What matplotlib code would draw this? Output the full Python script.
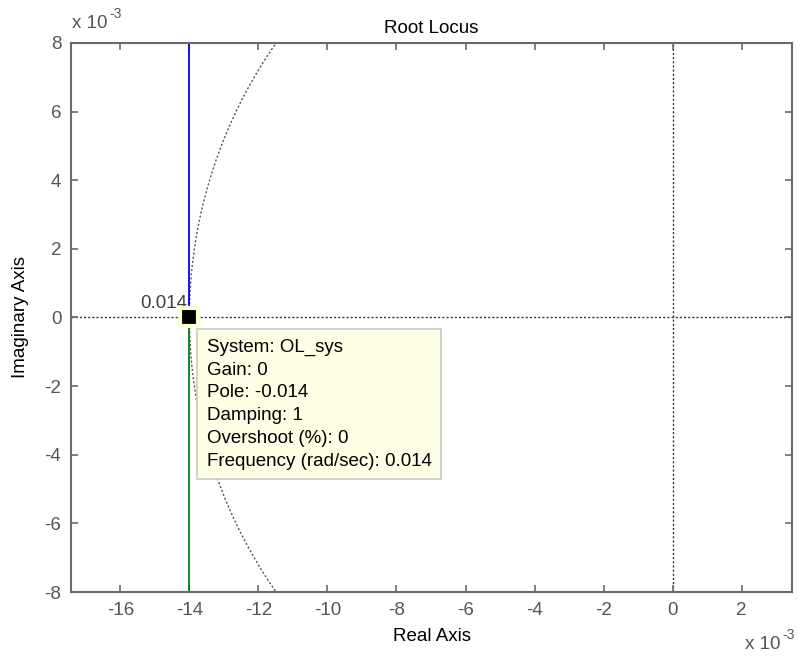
import numpy as np
import matplotlib
matplotlib.use("Agg")
import matplotlib.pyplot as plt
from matplotlib.ticker import FixedLocator, FuncFormatter

plt.rcParams['font.family'] = ['Liberation Sans', 'DejaVu Sans']

# root locus data (real units)
pole_real = -0.014
pole_imag = 0.0
upper_branch_real = [-0.014, -0.014]
upper_branch_imag = [0.0, 0.0085]
lower_branch_real = [-0.014, -0.014]
lower_branch_imag = [0.0, -0.0085]
wn_grid = 0.014
wn_label = "0.014"

x_ticks = [-16, -14, -12, -10, -8, -6, -4, -2, 0, 2]
y_ticks = [-8, -6, -4, -2, 0, 2, 4, 6, 8]

tip_lines = [
    "System: OL_sys",
    "Gain: 0",
    "Pole: -0.014",
    "Damping: 1",
    "Overshoot (%): 0",
    "Frequency (rad/sec): 0.014",
]

axis_gray = "#6a6a6a"
label_gray = "#555555"
fs = 13.5

fig = plt.figure(figsize=(7.98, 6.58), dpi=100)
ax = fig.add_axes([0.089, 0.1003, 0.9035, 0.8344])

xlim = (-17.43e-3, 3.46e-3)
ylim = (-8e-3, 8e-3)

# sgrid: natural frequency circle and axes lines
theta = np.linspace(np.pi / 2, 3 * np.pi / 2, 400)
ax.plot(wn_grid * np.cos(theta), wn_grid * np.sin(theta), ls=(0, (1.5, 1.5)),
        color="#555555", lw=1.0, zorder=1)
ax.axhline(0, ls=(0, (1.5, 1.5)), color="#333333", lw=1.0, zorder=1)
ax.axvline(0, ls=(0, (1.5, 1.5)), color="#333333", lw=1.0, zorder=1)

# locus branches
ax.plot(upper_branch_real, upper_branch_imag, color="#0000ff", lw=1.3, zorder=2)
ax.plot(lower_branch_real, lower_branch_imag, color="#008000", lw=1.3, zorder=2)

# frequency label
ax.text(pole_real - 0.00005, 0.00015, wn_label, ha="right", va="bottom",
        fontsize=fs, color="#404040", zorder=3)

# data tip marker
ax.plot([pole_real], [pole_imag], marker="s", ms=13, mfc="black", mec="#ffffd8",
        mew=3, zorder=5)

# data tip box
ax.text(pole_real + 0.0005, -0.00062, "\n".join(tip_lines), ha="left", va="top",
        fontsize=fs, color="black", linespacing=1.44, zorder=6,
        bbox=dict(boxstyle="square,pad=0.5", fc="#ffffe6", ec="#c8c8c8", lw=1.2))

ax.set_xlim(xlim)
ax.set_ylim(ylim)
ax.xaxis.set_major_locator(FixedLocator([v * 1e-3 for v in x_ticks]))
ax.yaxis.set_major_locator(FixedLocator([v * 1e-3 for v in y_ticks]))
fmt = FuncFormatter(lambda v, p: "%g" % round(v * 1e3, 6))
ax.xaxis.set_major_formatter(fmt)
ax.yaxis.set_major_formatter(fmt)

ax.tick_params(direction="in", length=5, width=1.2, color=axis_gray,
               labelcolor=label_gray, labelsize=fs, top=True, right=True, pad=7)
for s in ax.spines.values():
    s.set_color(axis_gray)
    s.set_linewidth(1.5)

ax.set_title("Root Locus", fontsize=fs, color="black", pad=7)
ax.set_xlabel("Real Axis", fontsize=fs, color="black", labelpad=7)
ax.set_ylabel("Imaginary Axis", fontsize=fs, color="black", labelpad=11)

# exponent labels
fig.text(72 / 798, 1 - 28 / 658, "x 10", fontsize=fs, color=label_gray,
         ha="left", va="baseline")
fig.text(109 / 798, 1 - 18 / 658, "-3", fontsize=10, color=label_gray,
         ha="left", va="baseline")
fig.text(745 / 798, 1 - 649 / 658, "x 10", fontsize=fs, color=label_gray,
         ha="left", va="baseline")
fig.text(782 / 798, 1 - 639 / 658, "-3", fontsize=10, color=label_gray,
         ha="left", va="baseline")

fig.savefig("out.png", dpi=100, facecolor="white")
